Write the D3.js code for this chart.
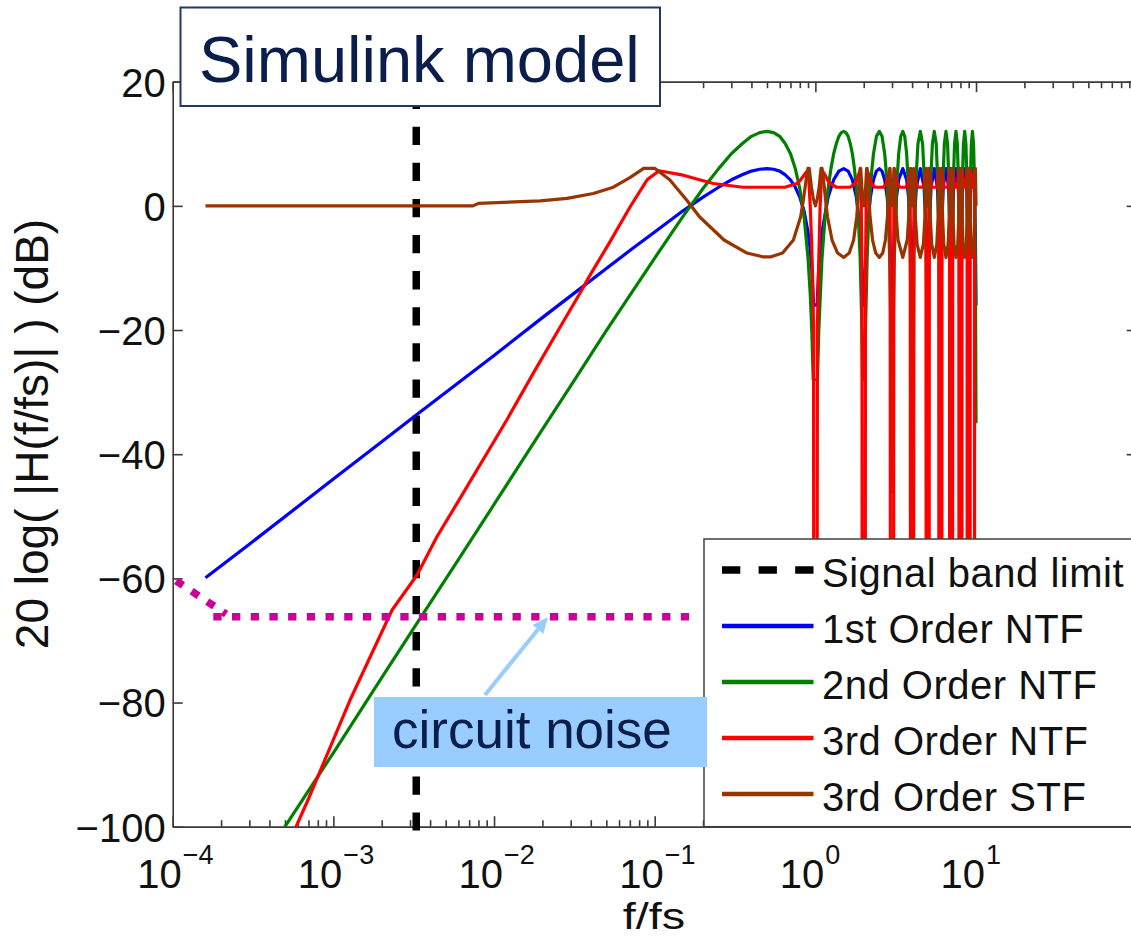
<!DOCTYPE html>
<html><head><meta charset="utf-8">
<script src="https://cdn.jsdelivr.net/npm/d3@7"></script>
<style>
body{margin:0;background:#fff;}
svg{display:block;font-family:"Liberation Sans",Arial,Helvetica,sans-serif;}
</style>
</head><body>
<svg id="c" width="1131" height="937"></svg>
<script>
// ---------------- data ----------------
const yTickValues = [20, 0, -20, -40, -60, -80, -100];
const xTickExponents = [-4, -3, -2, -1, 0, 1];
const signalBand = 3.28e-3;
const noiseFloor = [[1.05e-4, -60.4], [2.15e-4, -65.75]];
const noiseFloorFlat = [[1.79e-4, -66.2], [0.164, -66.2]];
const legendLabels = ["Signal band limit", "1st Order NTF", "2nd Order NTF", "3rd Order NTF", "3rd Order STF"];

const ntf1 = [
[1.6e-4,-59.9],[3e-4,-54.5],[1e-3,-44.0],[2e-3,-38.0],[3.28e-3,-33.7],[6e-3,-28.5],[0.01,-24.1],[0.02,-18.0],[0.03,-14.5],[0.05,-10.1],[0.07,-7.2],[0.1,-4.2],[0.15,-0.8],[0.2,1.4],[0.25,3.0],[0.3,4.2],[0.35,5.0],[0.4,5.6],[0.45,5.9],[0.5,6.0],[0.55,5.9],[0.6,5.6],[0.65,5.0],[0.7,4.2],[0.75,3.0],[0.8,1.4],[0.85,-0.8],[0.9,-4.2],[0.93,-7.2],[0.95,-10.1],[0.975,-16.0],
[1.0,-16.0],[1.025,-16.0],[1.05,-10.1],[1.1,-4.2],[1.2,1.4],[1.3,4.2],[1.4,5.6],[1.5,6.0],[1.6,5.6],[1.7,4.2],[1.8,1.4],[1.9,-4.2],[1.95,-10.1],
[2.0,-16.0],[2.05,-10.1],[2.1,-4.2],[2.2,1.4],[2.3,4.2],[2.4,5.6],[2.5,6.0],[2.6,5.6],[2.7,4.2],[2.8,1.4],[2.9,-4.2],[2.95,-10.1],
[3.0,-16.0],[3.1,-4.2],[3.2,1.4],[3.3,4.2],[3.5,6.0],[3.7,4.2],[3.8,1.4],[3.9,-4.2],
[4.0,-16.0],[4.1,-4.2],[4.25,3.0],[4.5,6.0],[4.75,3.0],[4.9,-4.2],
[5.0,-16.0],[5.1,-4.2],[5.25,3.0],[5.5,6.0],[5.75,3.0],[5.9,-4.2],
[6.0,-16.0],[6.1,-4.2],[6.25,3.0],[6.5,6.0],[6.75,3.0],[6.9,-4.2],
[7.0,-16.0],[7.1,-4.2],[7.25,3.0],[7.5,6.0],[7.75,3.0],[7.9,-4.2],
[8.0,-16.0],[8.1,-4.2],[8.25,3.0],[8.5,6.0],[8.75,3.0],[8.9,-4.2],
[9.0,-16.0],[9.1,-4.2],[9.25,3.0],[9.5,6.0],[9.75,3.0],[9.9,-4.2],
[10.0,-16.0]
];

const ntf2 = [
[4.6e-4,-101.4],[1e-3,-88.1],[2e-3,-76.0],[3.28e-3,-67.4],[6e-3,-57.0],[0.01,-48.1],[0.02,-36.0],[0.03,-29.0],[0.05,-20.1],[0.07,-14.4],[0.1,-8.4],[0.15,-1.7],[0.2,2.8],[0.25,6.0],[0.3,8.4],[0.35,10.0],[0.4,11.2],[0.45,11.8],[0.5,12.0],[0.55,11.8],[0.6,11.2],[0.65,10.0],[0.7,8.4],[0.75,6.0],[0.8,2.8],[0.85,-1.7],[0.9,-8.4],[0.93,-14.4],[0.95,-20.1],[0.97,-28.0],
[1.03,-28.0],[1.05,-20.1],[1.1,-8.4],[1.15,-1.7],[1.2,2.8],[1.25,6.0],[1.3,8.4],[1.35,10.0],[1.4,11.2],[1.45,11.8],[1.5,12.0],[1.55,11.8],[1.6,11.2],[1.65,10.0],[1.7,8.4],[1.75,6.0],[1.8,2.8],[1.85,-1.7],[1.9,-8.4],[1.95,-20.1],[1.97,-28.0],
[2.03,-28.0],[2.05,-20.1],[2.1,-8.4],[2.15,-1.7],[2.2,2.8],[2.25,6.0],[2.3,8.4],[2.4,11.2],[2.5,12.0],[2.6,11.2],[2.7,8.4],[2.75,6.0],[2.8,2.8],[2.85,-1.7],[2.9,-8.4],[2.95,-20.1],
[3.0,-46.0],[3.05,-20.1],[3.1,-8.4],[3.2,2.8],[3.3,8.4],[3.4,11.2],[3.5,12.0],[3.6,11.2],[3.7,8.4],[3.8,2.8],[3.9,-8.4],[3.95,-20.1],
[4.0,-80.0],[4.1,-8.4],[4.2,2.8],[4.35,10.0],[4.5,12.0],[4.65,10.0],[4.8,2.8],[4.9,-8.4],
[5.0,-35.0],[5.1,-8.4],[5.2,2.8],[5.35,10.0],[5.5,12.0],[5.65,10.0],[5.8,2.8],[5.9,-8.4],
[6.0,-35.0],[6.1,-8.4],[6.2,2.8],[6.35,10.0],[6.5,12.0],[6.65,10.0],[6.8,2.8],[6.9,-8.4],
[7.0,-35.0],[7.1,-8.4],[7.2,2.8],[7.35,10.0],[7.5,12.0],[7.65,10.0],[7.8,2.8],[7.9,-8.4],
[8.0,-35.0],[8.1,-8.4],[8.2,2.8],[8.35,10.0],[8.5,12.0],[8.65,10.0],[8.8,2.8],[8.9,-8.4],
[9.0,-35.0],[9.1,-8.4],[9.2,2.8],[9.35,10.0],[9.5,12.0],[9.65,10.0],[9.8,2.8],[9.9,-8.4],
[10.0,-35.0]
];

const ntf3 = [
[5.5e-4,-102],[5.86e-4,-100],[6.95e-4,-95.7],[1.27e-3,-79.6],[2.32e-3,-65.1],[3.31e-3,-59.5],[4.41e-3,-53.3],[6.05e-3,-47.4],[0.012,-34.5],[0.0176,-26.9],[0.0258,-19.5],[0.0344,-14.0],[0.0391,-11.4],[0.0521,-6.0],[0.0705,-0.1],[0.0897,4.2],[0.1065,5.66],[0.147,5.0],[0.19,4.2],[0.232,3.6],[0.354,3.0],[0.646,3.0],[0.768,3.6],[0.81,4.2],[0.853,5.0],[0.8935,5.66],[0.9103,4.2],[0.9295,-0.1],[0.9479,-6.0],[0.9609,-11.4],[0.9742,-19.5],
[0.98,-120],[1.02,-120],[1.03,-19.5],[1.044,-11.4],[1.07,-0.1],[1.09,4.2],[1.106,5.66],[1.147,5.0],[1.19,4.2],[1.232,3.6],[1.354,3.0],[1.646,3.0],[1.768,3.6],[1.81,4.2],[1.853,5.0],[1.894,5.66],[1.91,4.2],[1.93,-0.1],[1.95,-11.4],
[1.96,-120],[2.04,-120],[2.05,-11.4],[2.07,-0.1],[2.09,4.2],[2.106,5.66],[2.15,5.0],[2.23,3.6],[2.35,3.0],[2.65,3.0],[2.77,3.6],[2.85,5.0],[2.894,5.66],[2.92,2.0],
[2.94,-120],[3.06,-120],[3.08,2.0],[3.106,5.66],[3.15,5.0],[3.23,3.6],[3.35,3.0],[3.65,3.0],[3.77,3.6],[3.85,5.0],[3.894,5.66],
[3.92,-120],[4.08,-120],[4.106,5.66],[4.15,5.0],[4.25,3.4],[4.4,3.0],[4.6,3.0],[4.75,3.4],[4.85,5.0],[4.88,5.66],
[4.9,-120],[5.1,-120],[5.12,5.66],[5.15,5.0],[5.3,3.0],[5.7,3.0],[5.82,5.0],[5.86,5.66],
[5.88,-120],[6.12,-120],[6.14,5.66],[6.18,5.0],[6.3,3.0],[6.7,3.0],[6.8,5.0],[6.84,5.66],
[6.86,-120],[7.14,-120],[7.16,5.66],[7.2,5.0],[7.35,3.0],[7.65,3.0],[7.78,5.0],[7.82,5.66],
[7.84,-120],[8.16,-120],[8.18,5.66],[8.24,5.0],[8.4,3.0],[8.6,3.0],[8.74,5.0],[8.8,5.66],
[8.82,-120],[9.18,-120],[9.2,5.66],[9.26,5.0],[9.4,3.0],[9.6,3.0],[9.72,5.0],[9.78,5.66],
[9.8,-120],[10.0,-120]
];

const stf3 = [
[1.6e-4,0],[7.4e-3,0],[8e-3,0.4],[0.0194,0.8],[0.0285,1.2],[0.0415,2.0],[0.0553,3.0],[0.0705,4.6],[0.0854,6.05],[0.1,6.05],[0.124,4.2],[0.158,0.95],[0.19,-1.75],[0.27,-5.5],[0.375,-7.6],[0.47,-8.2],[0.53,-8.2],[0.625,-7.6],[0.73,-5.5],[0.81,-1.75],[0.842,0.95],[0.876,4.2],[0.9,6.05],[0.915,6.05],[0.93,4.6],[0.945,3.0],[0.96,2.0],[0.97,1.2],[0.98,0.8],[0.992,0.4],[1.0,0],
[1.008,0.4],[1.02,0.8],[1.03,1.2],[1.04,2.0],[1.055,3.0],[1.07,4.6],[1.085,6.05],[1.1,6.05],[1.124,4.2],[1.158,0.95],[1.19,-1.75],[1.27,-5.5],[1.375,-7.6],[1.5,-8.3],[1.625,-7.6],[1.73,-5.5],[1.81,-1.75],[1.842,0.95],[1.876,4.2],[1.9,6.05],[1.915,6.05],[1.93,4.6],[1.945,3.0],[1.97,1.2],[2.0,0],
[2.03,1.2],[2.055,3.0],[2.07,4.6],[2.085,6.05],[2.1,6.05],[2.124,4.2],[2.158,0.95],[2.19,-1.75],[2.27,-5.5],[2.375,-7.6],[2.5,-8.3],[2.625,-7.6],[2.73,-5.5],[2.81,-1.75],[2.842,0.95],[2.876,4.2],[2.9,6.05],[2.915,6.05],[2.93,4.6],[2.945,3.0],[2.97,1.2],[3.0,0],
[3.055,3.0],[3.085,6.05],[3.1,6.05],[3.124,4.2],[3.19,-1.75],[3.27,-5.5],[3.5,-8.3],[3.73,-5.5],[3.81,-1.75],[3.876,4.2],[3.9,6.05],[3.915,6.05],[3.945,3.0],[4.0,0],
[4.09,6.05],[4.19,-1.75],[4.3,-6.2],[4.5,-8.3],[4.7,-6.2],[4.81,-1.75],[4.91,6.05],[5.0,0],
[5.09,6.05],[5.19,-1.75],[5.3,-6.2],[5.5,-8.3],[5.7,-6.2],[5.81,-1.75],[5.91,6.05],[6.0,0],
[6.09,6.05],[6.19,-1.75],[6.3,-6.2],[6.5,-8.3],[6.7,-6.2],[6.81,-1.75],[6.91,6.05],[7.0,0],
[7.09,6.05],[7.19,-1.75],[7.3,-6.2],[7.5,-8.3],[7.7,-6.2],[7.81,-1.75],[7.91,6.05],[8.0,0],
[8.09,6.05],[8.19,-1.75],[8.3,-6.2],[8.5,-8.3],[8.7,-6.2],[8.81,-1.75],[8.91,6.05],[9.0,0],
[9.09,6.05],[9.19,-1.75],[9.3,-6.2],[9.5,-8.3],[9.7,-6.2],[9.81,-1.75],[9.91,6.05],[10.0,0]
];

// ---------------- layout ----------------
const X0 = 172.7, X1 = 1136.7, Y0 = 81.7, Y1 = 826.7;
const svg = d3.select("#c");
const x = d3.scaleLog().domain([1e-4, 1e2]).range([X0, X1]);
const y = d3.scaleLinear().domain([-100, 20]).range([Y1, Y0]);
const axisColor = "#3a3a3a";

svg.append("defs").append("clipPath").attr("id", "plotclip")
  .append("rect").attr("x", X0).attr("y", Y0).attr("width", X1 - X0).attr("height", Y1 - Y0);

// ticks
const allX = x.ticks();
const isMajor = d => Math.abs(Math.log10(d) - Math.round(Math.log10(d))) < 1e-9;
const majorX = allX.filter(isMajor);
const minorX = allX.filter(d => !isMajor(d));

function styleAxis(g) {
  g.attr("font-family", null).attr("font-size", null);
  g.selectAll("path.domain").attr("stroke", axisColor).attr("stroke-width", 1.6);
  g.selectAll(".tick line").attr("stroke", axisColor).attr("stroke-width", 1.6);
}
const axes = svg.append("g");
axes.append("g").attr("transform", `translate(0,${Y1})`)
  .call(d3.axisBottom(x).tickValues(minorX).tickSize(-6.5).tickSizeOuter(0).tickFormat("")).call(styleAxis);
axes.append("g").attr("transform", `translate(0,${Y1})`)
  .call(d3.axisBottom(x).tickValues(majorX).tickSize(-10.5).tickSizeOuter(0).tickFormat("")).call(styleAxis);
axes.append("g").attr("transform", `translate(0,${Y0})`)
  .call(d3.axisTop(x).tickValues(minorX).tickSize(-6.5).tickSizeOuter(0).tickFormat("")).call(styleAxis);
axes.append("g").attr("transform", `translate(0,${Y0})`)
  .call(d3.axisTop(x).tickValues(majorX).tickSize(-10.5).tickSizeOuter(0).tickFormat("")).call(styleAxis);
const fmtY = d => (d < 0 ? "\u2212" + Math.abs(d) : String(d));
const leftAx = axes.append("g").attr("transform", `translate(${X0},0)`)
  .call(d3.axisLeft(y).tickValues(yTickValues).tickSize(-10).tickSizeOuter(0).tickPadding(7).tickFormat(fmtY)).call(styleAxis);
leftAx.selectAll(".tick text").attr("font-size", 40).attr("fill", "#111").attr("dy", "0.36em");
axes.append("g").attr("transform", `translate(${X1},0)`)
  .call(d3.axisRight(y).tickValues(yTickValues).tickSize(-10).tickSizeOuter(0).tickFormat("")).call(styleAxis);

// x tick labels 10^n
const xl = axes.append("g").attr("fill", "#111");
xTickExponents.forEach(e => {
  const px = x(Math.pow(10, e));
  xl.append("text").attr("x", px + 9).attr("y", 888).attr("text-anchor", "end").attr("font-size", 40).text("10");
  xl.append("text").attr("x", px + 10).attr("y", 864).attr("text-anchor", "start").attr("font-size", 27)
    .text(e < 0 ? "\u2212" + Math.abs(e) : String(e));
});

// axis labels
svg.append("text").attr("transform", "translate(654,929) scale(1.3,1)").attr("text-anchor", "middle")
  .attr("font-size", 36).attr("fill", "#111").text("f/fs");
svg.append("text").attr("transform", "translate(48,434) rotate(-90)").attr("text-anchor", "middle")
  .attr("font-size", 46).attr("fill", "#111").text("20 log( |H(f/fs)| ) (dB)");

// signal band limit (dashed)
svg.append("line").attr("x1", x(signalBand)).attr("x2", x(signalBand))
  .attr("y1", y(20)).attr("y2", y(-100.6))
  .attr("stroke", "#000").attr("stroke-width", 7.5)
  .attr("stroke-dasharray", "18.3 17.8").attr("stroke-dashoffset", 27.2);

// curves
const line = d3.line().x(d => x(d[0])).y(d => y(d[1]));
const series = [
  {data: ntf1, color: "#0000ff"},
  {data: ntf2, color: "#008000"},
  {data: ntf3, color: "#ff0000"},
  {data: stf3, color: "#993300"}
];
const curves = svg.append("g").attr("clip-path", "url(#plotclip)");
series.forEach(s => {
  curves.append("path").attr("d", line(s.data)).attr("fill", "none")
    .attr("stroke", s.color).attr("stroke-width", 3.2).attr("stroke-linejoin", "round");
});

// legend
const lg = svg.append("g");
lg.append("rect").attr("x", 704).attr("y", 539).attr("width", 450).attr("height", Y1 - 539)
  .attr("fill", "#fff").attr("stroke", "#404040").attr("stroke-width", 1.5);
const legendColors = ["#000", "#0000ff", "#008000", "#ff0000", "#993300"];
legendLabels.forEach((lab, i) => {
  const ly = 570 + i * 56;
  lg.append("line").attr("x1", 722).attr("x2", 813.5).attr("y1", ly).attr("y2", ly)
    .attr("stroke", legendColors[i]).attr("stroke-width", i === 0 ? 7.5 : 4.5)
    .attr("stroke-dasharray", i === 0 ? "18.3 18.3" : null);
  lg.append("text").attr("x", 822).attr("y", ly + 17).attr("font-size", 40)
    .attr("letter-spacing", 0.5).attr("fill", "#111").text(lab);
});

// title box
svg.append("rect").attr("x", 180.5).attr("y", 7.5).attr("width", 479.5).attr("height", 98.5)
  .attr("fill", "#fff").attr("stroke", "#1f3864").attr("stroke-width", 2);
svg.append("text").attr("x", 199).attr("y", 82).attr("font-size", 65).attr("fill", "#0b1d4a").text("Simulink model");

// circuit-noise annotation (magenta dotted)
const dotStyle = sel => sel.attr("fill", "none").attr("stroke", "#cc0099").attr("stroke-width", 7.5)
  .attr("stroke-dasharray", "8.3 10.4");
svg.append("path").attr("d", line(noiseFloor)).call(dotStyle);
svg.append("path").attr("d", line(noiseFloorFlat)).call(dotStyle);

// arrow
svg.append("line").attr("x1", 485).attr("y1", 695).attr("x2", 538).attr("y2", 629.4)
  .attr("stroke", "#99ccff").attr("stroke-width", 4);
svg.append("polygon").attr("points", "548,617 543.4,633.8 532.6,625").attr("fill", "#99ccff");

// circuit noise label
svg.append("rect").attr("x", 374).attr("y", 697).attr("width", 333).attr("height", 70).attr("fill", "#99ccff");
svg.append("text").attr("x", 392).attr("y", 748).attr("font-size", 53).attr("fill", "#0b1d4a").text("circuit noise");
</script>
</body></html>
